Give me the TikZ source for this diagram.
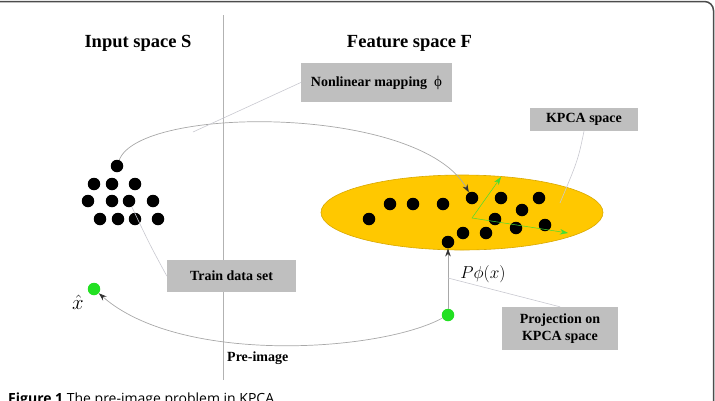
\documentclass[tikz,border=0pt]{standalone}
\usepackage{fontspec}
\setmainfont{Liberation Serif}
\newfontfamily\capfont{Open Sans}
\usetikzlibrary{shapes.geometric,arrows.meta}
\definecolor{boxgray}{HTML}{BFBFBF}
\definecolor{gold}{HTML}{FFC800}
\definecolor{goldline}{HTML}{D9A800}
\definecolor{dotgreen}{HTML}{22E022}
\definecolor{axgreen}{HTML}{44DD33}
\definecolor{curvegray}{HTML}{A8A8A8}
\definecolor{leadgray}{HTML}{C8C8D0}
\tikzset{
  dot/.style={circle,fill=black,minimum size=12.5pt,inner sep=0pt},
  gdot/.style={circle,fill=dotgreen,minimum size=12.5pt,inner sep=0pt},
  lbox/.style={fill=boxgray,inner sep=0pt,font=\fontsize{14}{16}\selectfont\bfseries,align=center},
  title/.style={font=\fontsize{18.5}{20}\selectfont\bfseries},
  curve/.style={draw=curvegray,line width=0.7pt,-{Stealth[length=8pt,width=5.5pt,fill=black!80,color=black!80]}},
  leader/.style={draw=leadgray,line width=0.6pt},
  axis/.style={draw=axgreen,line width=0.5pt,-{Stealth[length=8pt,width=5.5pt,fill=axgreen,color=axgreen]}}
}
\begin{document}
\begin{tikzpicture}[x=1pt,y=-1pt]
\useasboundingbox (0,0) rectangle (715,400);
% frame
\draw[black!70,line width=1.5pt,rounded corners=9pt] (-10,1.5) rectangle (713.5,420);
% divider
\draw[black!30,line width=0.8pt] (223,15) -- (223,380);
% titles
\node[title] (tin) at (138,43) {Input space S};
\node[title] (tfe) at (409.5,43) {Feature space F};
% ellipse
\node[ellipse,fill=gold,draw=goldline,line width=0.6pt,minimum width=282pt,minimum height=75pt,inner sep=0pt] (fs) at (462,212.5) {};
% train dots
\node[dot] (t0) at (117,166) {};
\node[dot] (t1) at (94,184) {};
\node[dot] (t2) at (112,184) {};
\node[dot] (t3) at (135,184) {};
\node[dot] (t4) at (88,201) {};
\node[dot] (t5) at (112,201) {};
\node[dot] (t6) at (129,201) {};
\node[dot] (t7) at (153,201) {};
\node[dot] (t8) at (100,219) {};
\node[dot] (t9) at (118,219) {};
\node[dot] (t10) at (135,219) {};
\node[dot] (t11) at (158,219) {};
% feature dots
\node[dot] (f1) at (369,219) {};
\node[dot] (f2) at (390,204) {};
\node[dot] (f3) at (413,204) {};
\node[dot] (f4) at (443,204) {};
\node[dot] (f5) at (472,198) {};
\node[dot] (f6) at (501,198) {};
\node[dot] (f7) at (539,198) {};
\node[dot] (f8) at (522,210) {};
\node[dot] (f9) at (495,219) {};
\node[dot] (f10) at (545,225) {};
\node[dot] (f11) at (516,228) {};
\node[dot] (f12) at (486,233) {};
\node[dot] (f13) at (463,233) {};
\node[dot] (f14) at (448,242) {};
% green axes
\coordinate (ax0) at (472,218);
\coordinate (ax1) at (501,177);
\coordinate (ax2) at (568,233);
\draw[axis] (ax0) -- (ax1);
\draw[axis] (ax0) -- (ax2);
% green dots
\node[gdot] (g1) at (94,289) {};
\node[gdot] (g2) at (448,315) {};
% labels
\node[lbox,minimum width=151pt,minimum height=39pt] (nl) at (376.5,82.5) {Nonlinear mapping \ {\mdseries\fontsize{15}{16}\selectfont ϕ}};
\node[lbox,minimum width=108pt,minimum height=23pt] (kp) at (584,119.5) {KPCA space};
\node[lbox,minimum width=129pt,minimum height=32pt] (tr) at (231.5,276) {Train data set};
\node[lbox,minimum width=116pt,minimum height=43pt,font=\fontsize{14}{17}\selectfont\bfseries] (pj) at (560,328.5) {Projection on\\KPCA space};
\node[font=\fontsize{14}{16}\selectfont\bfseries,anchor=west,inner sep=0pt] (pre) at (227,358) {Pre-image};
\node[font=\fontsize{21}{24}\selectfont,inner sep=0pt] (xh) at (78,302) {$\hat{x}$};
\node[font=\fontsize{17}{20}\selectfont,inner sep=0pt] (pphi) at (483,274) {$P\phi(x)$};
% mapping curve
\draw[curve] (t0) .. controls (140,105) and (420,105) .. (f5);
\coordinate (nlend) at (193,132);
\draw[leader] (nl.west) -- (nlend);
% kpca leader
\coordinate (kpend) at (560,203);
\draw[leader] (kp.south) .. controls (578,160) .. (kpend);
% train leader
\draw[leader] (tr.west) .. controls (150,245) .. (t6);
% projection arrow
\draw[curve] (g2) -- (f14);
\coordinate (pjend) at (448,278);
\draw[leader] (pjend) -- (pj.north);
% pre-image curve
\draw[curve] (g2) .. controls (380,352) and (180,365) .. (g1);
% caption
\node[anchor=base west,inner sep=0pt,font=\capfont\fontsize{14}{16}\selectfont] (cap) at (8,403) {\textbf{Figure 1} The pre-image problem in KPCA.};
\end{tikzpicture}
\end{document}
